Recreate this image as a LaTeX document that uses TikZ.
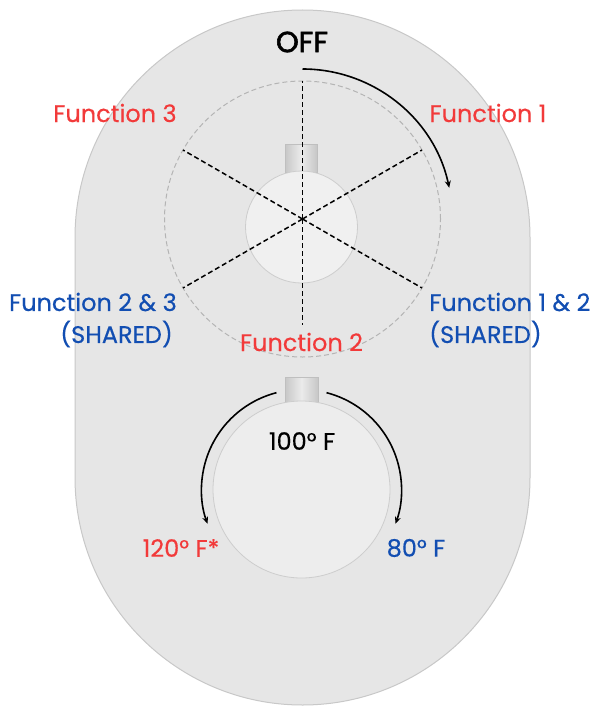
\documentclass[tikz,border=0pt]{standalone}
\usepackage{fontspec}
\setmainfont{Poppins}
\newfontfamily\lblfont{Poppins}[FakeBold=0.35]
\newfontfamily\offfont{Poppins}[FakeBold=2]
\usetikzlibrary{arrows.meta}
\definecolor{platefill}{RGB}{230,230,230}
\definecolor{plateedge}{RGB}{200,200,200}
\definecolor{knobfill}{RGB}{240,240,240}
\definecolor{knobedge}{RGB}{205,205,205}
\definecolor{fred}{RGB}{242,58,58}
\definecolor{fblue}{RGB}{18,78,178}
\definecolor{ringgray}{RGB}{180,180,180}
\tikzset{
  plate/.style={fill=platefill,draw=plateedge,line width=1pt},
  knob/.style={fill=knobfill,draw=knobedge,line width=0.8pt},
  stem/.style={left color=black!22,right color=black!22,middle color=black!8,draw=black!25,line width=0.5pt},
  sector/.style={black,dashed,dash pattern=on 5pt off 3pt,line width=1.5pt},
  ring/.style={ringgray,dash pattern=on 5pt off 3pt,line width=1pt},
  turn/.style={black,line width=1.6pt,-{Stealth[length=7pt,width=6pt]}},
  lbl/.style={inner sep=0pt,font=\lblfont\fontsize{24}{28}\selectfont},
  redlbl/.style={lbl,text=fred},
  bluelbl/.style={lbl,text=fblue},
}
\begin{document}
\begin{tikzpicture}[x=1pt,y=1pt]
\useasboundingbox[fill=white] (0,0) rectangle (593,-706);
% plate
\draw[plate] (75,-237.5) arc[start angle=180,end angle=0,radius=227.5] -- (530,-477.5) arc[start angle=0,end angle=-180,radius=227.5] -- cycle;
% upper dial
\coordinate (U) at (302.5,-219);
\draw[ring] (U) circle[radius=138];
\draw[stem] (285,-144) rectangle (317,-172);
\draw[knob] (301.5,-227) circle[radius=56];
\draw[sector] (U) -- ++(90:138);
\draw[sector] (U) -- ++(-90:106);
\draw[sector] (U) -- ++(30:138);
\draw[sector] (U) -- ++(150:138);
\draw[sector] (U) -- ++(210:138);
\draw[sector] (U) -- ++(-30:138);
\draw[turn] (U) ++(90:150) arc[start angle=90,end angle=12,radius=150];
% lower dial
\coordinate (L) at (301.5,-489.5);
\draw[stem] (285,-377) rectangle (318,-404);
\draw[knob,fill=black!7] (L) circle[radius=88.5];
\draw[turn] (L) ++(104.5:100) arc[start angle=104.5,end angle=200,radius=100];
\draw[turn] (L) ++(75.5:100) arc[start angle=75.5,end angle=-20,radius=100];
% labels
\node[inner sep=0pt,font=\offfont\fontsize{29}{32}\selectfont] (off) at (302,-42) {OFF};
\node[redlbl] (f3) at (115,-113) {Function 3};
\node[redlbl] (f1) at (488,-113) {Function 1};
\node[redlbl] (f2) at (301.5,-342) {Function 2};
\node[bluelbl,anchor=east] (f23a) at (177,-302) {Function 2 \& 3};
\node[bluelbl,anchor=east] (f23b) at (173,-334) {(SHARED)};
\node[bluelbl,anchor=west] (f12a) at (429,-302) {Function 1 \& 2};
\node[bluelbl,anchor=west] (f12b) at (429,-334) {(SHARED)};
\node[lbl] (t100) at (302,-441) {100° F};
\node[redlbl] (t120) at (181,-548) {120° F*};
\node[bluelbl] (t80) at (416,-548) {80° F};
\end{tikzpicture}
\end{document}
